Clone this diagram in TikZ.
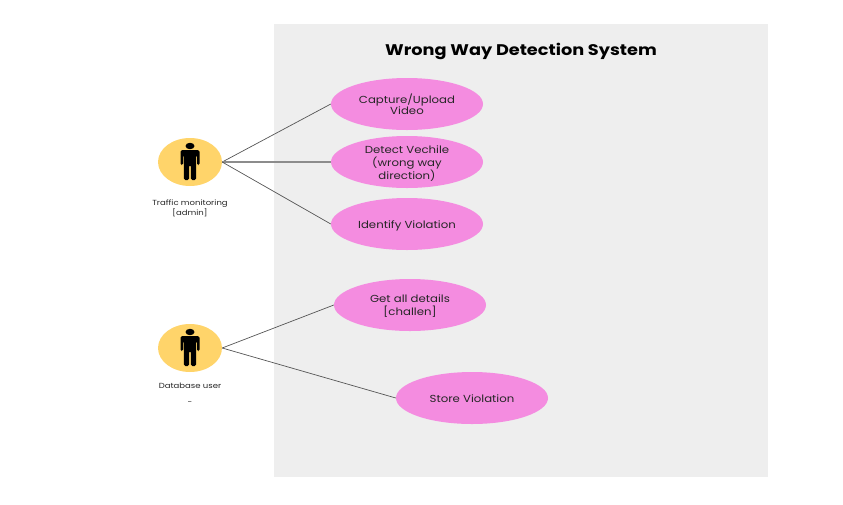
\documentclass[tikz,border=0pt]{standalone}
\usepackage{fontspec}
\setmainfont[FakeStretch=1.15]{Poppins}
\usetikzlibrary{shapes.geometric}
\definecolor{panel}{HTML}{EEEEEE}
\definecolor{usecase}{HTML}{F48CE0}
\definecolor{actorfill}{HTML}{FFD46A}
\definecolor{linec}{HTML}{555555}
\newcommand{\uctext}[1]{\raisebox{-4.5pt}[0pt][0pt]{\begin{tabular}{@{}c@{}}#1\end{tabular}}}
\tikzset{
 usecase/.style={ellipse,fill=usecase,minimum width=152pt,minimum height=52pt,inner sep=0pt,align=center,font=\fontsize{10.2pt}{11.5pt}\selectfont,text=black!85},
 actor/.style={ellipse,fill=actorfill,minimum width=64pt,minimum height=48pt,inner sep=0pt},
 actorlabel/.style={align=center,inner sep=0pt,font=\fontsize{7.4pt}{10pt}\selectfont,text=black!85},
 link/.style={draw=linec,line width=0.7pt},
 person/.pic={
  \fill[black] (0,-16) ellipse (4.5 and 3.2);
  \fill[black,rounded corners=1.5pt] (-9.5,-12) -- (9.5,-12) -- (9.5,3) -- (7,3) -- (7,-7) -- (6.2,-7) -- (6.2,18) -- (0.9,18) -- (0.9,3) -- (-0.9,3) -- (-0.9,18) -- (-6.2,18) -- (-6.2,-7) -- (-7,-7) -- (-7,3) -- (-9.5,3) -- cycle;
 }
}
\begin{document}
\begin{tikzpicture}[x=1pt,y=-1pt]
\useasboundingbox (0,0) rectangle (843,504);
\fill[panel] (274,24) rectangle (768,477);
\node[inner sep=0pt,font=\fontsize{15.4pt}{17pt}\selectfont\bfseries] (title) at (521,51.5) {Wrong Way Detection System};
\node[actor] (a1) at (190,162) {};
\node[actor] (a2) at (190,348) {};
\pic at (190,162) {person};
\pic at (190,348) {person};
\node[actorlabel] (l1) at (190,208.5) {Traffic monitoring\\{[admin]}};
\node[actorlabel] (l2) at (190,386) {Database user};
\node[actorlabel] (l3) at (190,403) {-};
\node[usecase] (c1) at (407,104) {\uctext{Capture/Upload\\Video}};
\node[usecase] (c2) at (407,162) {\uctext{Detect Vechile\\(wrong way\\direction)}};
\node[usecase] (c3) at (407,224) {\uctext{Identify Violation}};
\node[usecase] (c4) at (410,305) {\uctext{Get all details\\{[challen]}}};
\node[usecase] (c5) at (472,398) {\uctext{Store Violation}};
\draw[link] (a1.east) -- (c1.west);
\draw[link,line width=1.3pt,draw=black!45] (a1.east) -- (c2.west);
\draw[link] (a1.east) -- (c3.west);
\draw[link] (a2.east) -- (c4.west);
\draw[link] (a2.east) -- (c5.west);
\end{tikzpicture}
\end{document}
